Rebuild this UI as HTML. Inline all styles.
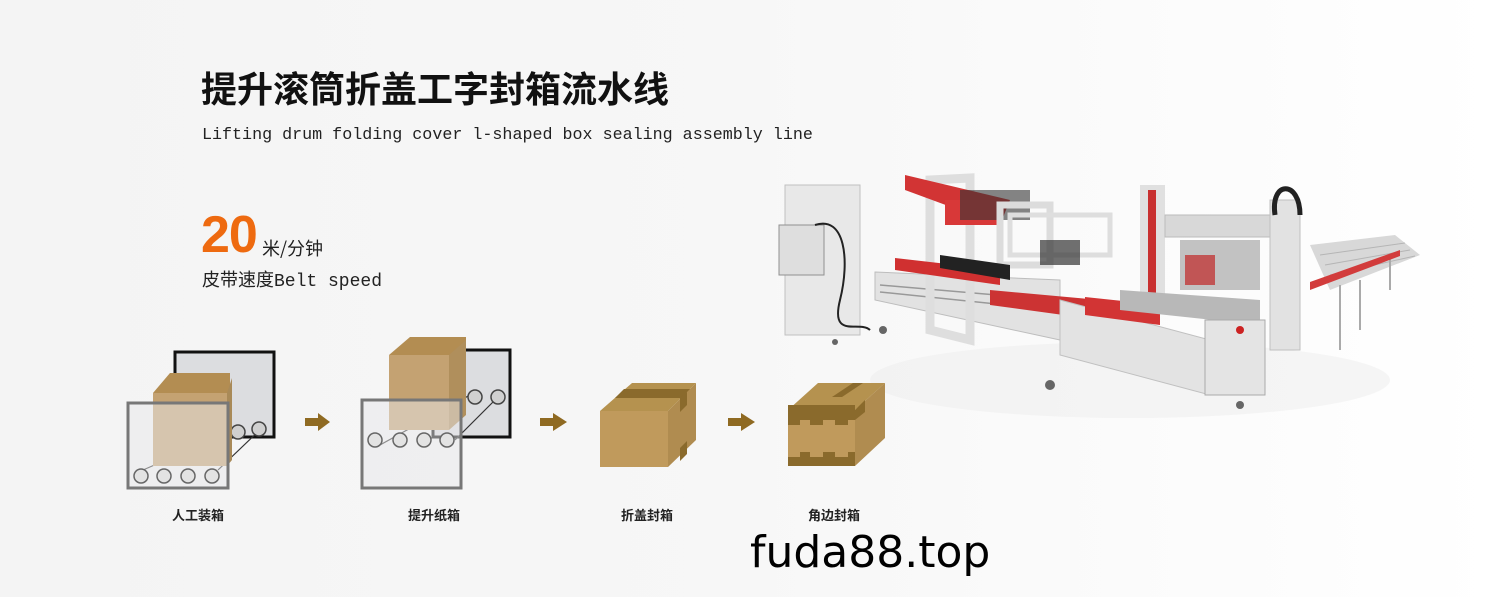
<!DOCTYPE html>
<html><head><meta charset="utf-8">
<style>
html,body{margin:0;padding:0}
body{width:1500px;height:597px;overflow:hidden;position:relative;background:linear-gradient(90deg,#f4f4f4 0%,#f7f7f7 50%,#fbfbfb 75%,#ffffff 100%);font-family:"Liberation Sans","Noto Sans CJK SC",sans-serif}
.t{position:absolute;white-space:nowrap}
</style></head><body>
<div class="t" style="left:201px;top:61px;font-size:36px;font-weight:bold;color:#111;font-family:'Noto Sans CJK SC',sans-serif">提升滚筒折盖工字封箱流水线</div>
<div class="t" style="left:202px;top:126px;font-size:16.7px;color:#222;font-family:'Liberation Mono','Noto Sans CJK SC',monospace">Lifting drum folding cover l-shaped box sealing assembly line</div>
<div class="t" style="left:201px;top:205px;font-size:52px;font-weight:bold;color:#ee6a10;font-family:'Liberation Sans',sans-serif;letter-spacing:-1px">20</div>
<div class="t" style="left:262px;top:235px;font-size:18px;color:#222;font-family:'Noto Sans CJK SC',sans-serif">米/分钟</div>
<div class="t" style="left:202px;top:266px;font-size:18px;color:#222;font-family:'Liberation Mono','Noto Sans CJK SC',monospace">皮带速度Belt speed</div>

<svg width="1500" height="597" style="position:absolute;left:0;top:0">
<!-- machine -->
<g>
<ellipse cx="1130" cy="380" rx="260" ry="38" fill="#ececec" opacity="0.45"/>
<polygon points="1310,245 1395,235 1420,255 1330,290" fill="#d8d8d8"/>
<g stroke="#b5b5b5" stroke-width="1"><line x1="1320" y1="255" x2="1405" y2="243"/><line x1="1325" y1="265" x2="1410" y2="250"/><line x1="1330" y1="275" x2="1415" y2="256"/></g>
<g stroke="#aaa" stroke-width="2"><line x1="1390" y1="255" x2="1390" y2="290"/><line x1="1340" y1="285" x2="1340" y2="350"/><line x1="1360" y1="280" x2="1360" y2="330"/></g>
<polygon points="1310,282 1400,250 1400,256 1310,290" fill="#d23c3c"/>
<rect x="785" y="185" width="75" height="150" fill="#e8e8e8" stroke="#c0c0c0"/>
<rect x="779" y="225" width="45" height="50" fill="#dedede" stroke="#909090"/>
<path d="M815 225 C845 215 850 260 840 300 S860 320 870 330" fill="none" stroke="#222" stroke-width="2"/>
<polygon points="875,272 1060,280 1060,340 875,300" fill="#e2e2e2" stroke="#bdbdbd"/>
<g stroke="#999" stroke-width="1.5"><line x1="880" y1="285" x2="1055" y2="300"/><line x1="880" y1="292" x2="1055" y2="310"/></g>
<polygon points="930,180 970,178 970,340 930,330" fill="none" stroke="#dedede" stroke-width="9"/>
<polygon points="905,175 1010,200 1000,225 905,190" fill="#d23434"/>
<rect x="945" y="200" width="55" height="25" fill="#d83838"/>
<rect x="960" y="190" width="70" height="30" fill="#333" opacity="0.6"/>
<rect x="1000" y="205" width="50" height="60" fill="none" stroke="#dcdcdc" stroke-width="7"/>
<rect x="1010" y="215" width="100" height="40" fill="none" stroke="#dedede" stroke-width="5"/>
<rect x="1040" y="240" width="40" height="25" fill="#333" opacity="0.7"/>
<polygon points="895,258 1000,270 1000,285 895,270" fill="#d03030"/>
<polygon points="940,255 1010,265 1010,280 940,268" fill="#222"/>
<polygon points="990,290 1100,300 1100,320 990,305" fill="#cc3333"/>
<polygon points="1060,300 1210,340 1210,395 1060,355" fill="#e3e3e3" stroke="#c0c0c0"/>
<polygon points="1085,297 1160,305 1160,325 1085,315" fill="#d23434"/>
<rect x="1140" y="185" width="25" height="115" fill="#e0e0e0"/>
<rect x="1148" y="190" width="8" height="105" fill="#c83030"/>
<rect x="1165" y="215" width="110" height="22" fill="#d8d8d8" stroke="#bbb"/>
<rect x="1180" y="240" width="80" height="50" fill="#555" opacity="0.35"/>
<rect x="1185" y="255" width="30" height="30" fill="#c03a3a" opacity="0.8"/>
<rect x="1270" y="200" width="30" height="150" fill="#e2e2e2" stroke="#c0c0c0"/>
<path d="M1275 215 C1270 180 1300 180 1300 215" fill="none" stroke="#222" stroke-width="5"/>
<polygon points="1120,290 1260,300 1260,325 1120,310" fill="#b8b8b8"/>
<rect x="1205" y="320" width="60" height="75" fill="#e4e4e4" stroke="#aaa"/>
<circle cx="1240" cy="330" r="4" fill="#c22"/>
<g fill="#666"><circle cx="883" cy="330" r="4"/><circle cx="1050" cy="385" r="5"/><circle cx="1240" cy="405" r="4"/><circle cx="835" cy="342" r="3"/></g>
</g>
<!-- Step 1 -->
<rect x="175" y="352" width="99" height="85" fill="#dcdde0" stroke="#111" stroke-width="3"/>
<g fill="none" stroke="#333" stroke-width="1.2">
<line x1="143" y1="470" x2="235" y2="430"/><line x1="218" y1="470" x2="265" y2="425"/>
</g>
<g fill="#d0d0d0" stroke="#444" stroke-width="1.5"><circle cx="238" cy="432" r="7"/><circle cx="259" cy="429" r="7"/></g>
<polygon points="153,393 170,373 230,373 230,393" fill="#b38d52"/>
<rect x="153" y="393" width="74" height="73" fill="#c4a272"/>
<polygon points="227,393 232,378 232,460 227,466" fill="#a98a58"/>
<rect x="128" y="403" width="100" height="85" fill="#e8e8ea" fill-opacity="0.5" stroke="#777" stroke-width="3"/>
<g fill="#e3e3e3" stroke="#666" stroke-width="1.5"><circle cx="141" cy="476" r="7"/><circle cx="164" cy="476" r="7"/><circle cx="188" cy="476" r="7"/><circle cx="212" cy="476" r="7"/></g>
<polygon points="305,418 318,418 318,413 330,422 318,431 318,426 305,426" fill="#8f6a22"/>
<!-- Step 2 -->
<rect x="433" y="350" width="77" height="87" fill="#dcdde0" stroke="#111" stroke-width="3"/>
<g fill="none" stroke="#333" stroke-width="1.2"><line x1="380" y1="445" x2="470" y2="395"/><line x1="455" y1="440" x2="500" y2="395"/></g>
<g fill="#d0d0d0" stroke="#444" stroke-width="1.5"><circle cx="475" cy="397" r="7"/><circle cx="498" cy="397" r="7"/></g>
<polygon points="389,355 410,337 466,337 466,355" fill="#b38d52"/>
<rect x="389" y="355" width="60" height="75" fill="#c4a272"/>
<polygon points="449,355 466,340 466,415 449,430" fill="#b08f5c"/>
<rect x="362" y="400" width="99" height="88" fill="#e8e8ea" fill-opacity="0.5" stroke="#777" stroke-width="3"/>
<g fill="#e3e3e3" stroke="#666" stroke-width="1.5"><circle cx="375" cy="440" r="7"/><circle cx="400" cy="440" r="7"/><circle cx="424" cy="440" r="7"/><circle cx="447" cy="440" r="7"/></g>
<polygon points="540,418 553,418 553,413 567,422 553,431 553,426 540,426" fill="#8f6a22"/>
<!-- Step 3 -->
<polygon points="600,411 632,383 696,383 668,411" fill="#b5924f"/>
<polygon points="615,398 687,398 693,389 624,389" fill="#8a6a2c"/>
<rect x="600" y="411" width="68" height="56" fill="#c09a5c"/>
<polygon points="668,411 696,383 696,440 668,467" fill="#b08c50"/>
<polygon points="680,398 687,392 687,405 680,412" fill="#8a6a2c"/>
<polygon points="680,448 687,441 687,454 680,461" fill="#8a6a2c"/>
<polygon points="728,418 741,418 741,413 755,422 741,431 741,426 728,426" fill="#8f6a22"/>
<!-- Step 4 -->
<polygon points="788,410 818,383 885,383 855,410" fill="#b5924f"/>
<polygon points="832,397 842,397 863,383 853,383" fill="#8a6a2c"/>
<rect x="788" y="410" width="67" height="56" fill="#c09a5c"/>
<polygon points="855,410 885,383 885,438 855,466" fill="#b08c50"/>
<path d="M788 405 H855 V420 H848 V425 H835 V420 H823 V425 H810 V420 H800 V425 H788Z" fill="#8a6a2c"/>
<path d="M788 466 H855 V452 H848 V457 H835 V452 H823 V457 H810 V452 H800 V457 H788Z" fill="#8a6a2c"/>
<polygon points="855,410 865,400 865,412 855,420" fill="#8a6a2c"/>
</svg>
<div class="t" style="left:172px;top:505px;font-size:13px;font-weight:bold;color:#222;font-family:'Noto Sans CJK SC',sans-serif">人工装箱</div>
<div class="t" style="left:408px;top:505px;font-size:13px;font-weight:bold;color:#222;font-family:'Noto Sans CJK SC',sans-serif">提升纸箱</div>
<div class="t" style="left:621px;top:505px;font-size:13px;font-weight:bold;color:#222;font-family:'Noto Sans CJK SC',sans-serif">折盖封箱</div>
<div class="t" style="left:808px;top:505px;font-size:13px;font-weight:bold;color:#222;font-family:'Noto Sans CJK SC',sans-serif">角边封箱</div>
<div class="t" style="left:750px;top:527px;font-size:44px;color:#000;font-family:'DejaVu Sans',sans-serif">fuda88.top</div>
</body></html>
